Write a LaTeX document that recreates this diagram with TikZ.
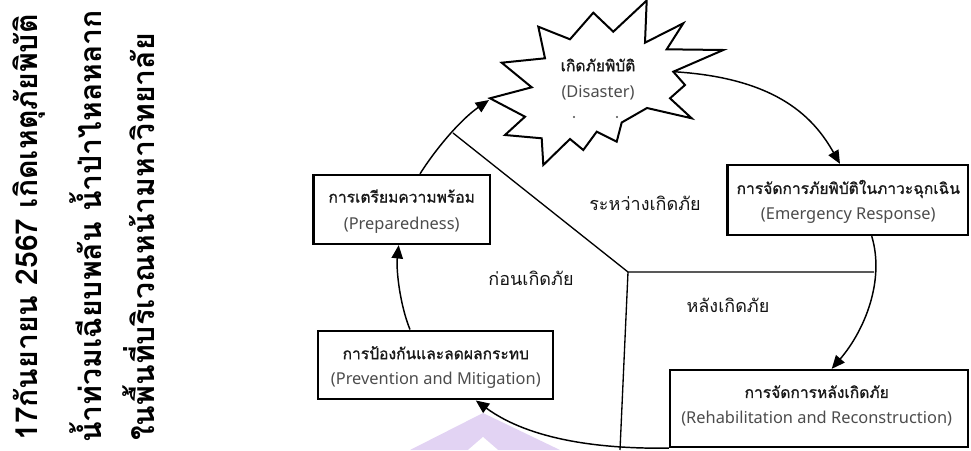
\documentclass[tikz,border=0pt]{standalone}
\usepackage{fontspec}
\setmainfont{Noto Sans}
\newfontfamily\thai[Script=Thai]{Loma}
\newfontfamily\thaibox[Script=Thai,FakeBold=1.2]{Loma}
\usetikzlibrary{arrows.meta,calc}
\definecolor{lav}{HTML}{E2D3F3}
\tikzset{
  starline/.style={line width=1.5pt, line join=miter},
  boxst/.style={draw, line width=1.7pt, inner sep=0pt},
  conn/.style={line width=1.1pt},
  arr/.style={conn, -{Triangle[length=10pt,width=8.5pt]}},
  divl/.style={line width=1pt},
  thtxt/.style={font=\thaibox\fontsize{11.7}{14}\selectfont, text=black!90, inner sep=0pt},
  entxt/.style={font=\fontsize{12.3}{14}\selectfont, text=black!70, inner sep=0pt},
  lbl/.style={font=\thai\fontsize{13.5}{15}\selectfont, text=black!92, inner sep=0pt},
  side/.style={font=\thai\bfseries\fontsize{22.6}{26}\selectfont, rotate=90, anchor=base west, inner sep=0pt},
}
\begin{document}
\begin{tikzpicture}[x=0.75pt,y=-0.75pt]
\useasboundingbox (0,0) rectangle (971,450);
% watermark
\fill[lav] (410,450) -- (483,413) -- (560,450) -- cycle;
\fill[white] (468,450) -- (483,437) -- (498,450) -- cycle;

% left rotated text
\node[side] (l1) at (37,441) {17กันยายน 2567 เกิดเหตุภัยพิบัติ};
\node[side] (l2) at (101,443) {น้ำท่วมเฉียบพลัน น้ำป่าไหลหลาก};
\node[side] (l3) at (154,441) {ในพื้นที่บริเวณหน้ามหาวิทยาลัย};

% starburst
\draw[starline] (490,98.3) -- (531.7,87.3) -- (501.7,62.7) -- (545,58.3) -- (538.3,26.7)
  -- (570,39.3) -- (593.3,12.7) -- (613.3,31.7) -- (646.7,0.5) -- (645,42.7)
  -- (683.3,23.3) -- (666.7,49.3) -- (723.3,50) -- (673.3,71.7) -- (685,85)
  -- (670,98.3) -- (691.7,118.3) -- (647,108) -- (621.7,122.5) -- (616.7,141.7)
  -- (596.7,131.7) -- (583.3,150) -- (570,139) -- (543.3,165) -- (541.7,138.3)
  -- (505,135) -- (525,116.7) -- cycle;
\coordinate (starL) at (489,100);
\coordinate (starR) at (673.3,71.7);
\node[thtxt] (disth) at (598,65) {เกิดภัยพิบัติ};
\node[entxt] (disen) at (598,93) {(Disaster)};
\fill[black!70] (574,117) circle (1.1);
\fill[black!70] (617,117) circle (1.1);

% boxes
\node[boxst, minimum width=132.5pt, minimum height=51.75pt] (prepbox) at (401.7,209.5) {};
\node[thtxt] (prepth) at (401.7,196) {การเตรียมความพร้อม};
\node[entxt] (prepen) at (401.7,225) {(Preparedness)};

\node[boxst, minimum width=176.25pt, minimum height=51.5pt] (prevbox) at (435.8,365) {};
\node[thtxt] (prevth) at (435.8,352.7) {การป้องกันและลดผลกระทบ};
\node[entxt] (preven) at (435.8,380) {(Prevention and Mitigation)};

\node[boxst, minimum width=180.5pt, minimum height=52.5pt] (emerbox) at (847.7,200) {};
\node[thtxt] (emerth) at (848.3,189) {การจัดการภัยพิบัติในภาวะฉุกเฉิน};
\node[entxt] (emeren) at (848.3,215.7) {(Emergency Response)};

\node[boxst, minimum width=223.5pt, minimum height=57.75pt] (rehabbox) at (819,408.5) {};
\node[thtxt] (rehabth) at (816.7,391.7) {การจัดการหลังเกิดภัย};
\node[entxt] (rehaben) at (816.7,418.3) {(Rehabilitation and Reconstruction)};

% phase labels
\node[lbl] (during) at (645,203) {ระหว่างเกิดภัย};
\node[lbl] (before) at (531,278) {ก่อนเกิดภัย};
\node[lbl] (after) at (728,305) {หลังเกิดภัย};

% dividers
\coordinate (divA) at (453,133);
\coordinate (divC) at (628,272);
\coordinate (divE) at (874,272);
\coordinate (divS) at (620,450);
\draw[divl] (divA) -- (divC) -- (divE);
\draw[divl] (divC) -- (divS);

% cycle arrows
\draw[arr] ($(prevbox.north)+(-25.8,0)$) .. controls (400,305) and (396,270) .. ($(prepbox.south)+(-3,0)$);
\draw[arr] ($(prepbox.north)+(18.3,0)$) .. controls (435,150) and (460,120) .. (starL);
\draw[arr] (starR) .. controls (780,78) and (815,120) .. ($(emerbox.north)+(-7.7,0)$);
\draw[arr] ($(emerbox.south)+(24,0)$) .. controls (885,280) and (865,330) .. ($(rehabbox.north)+(12.7,0)$);
\draw[arr] (rehabbox.south west) .. controls (600,449) and (530,440) .. ($(prevbox.south)+(40,0)$);
\end{tikzpicture}
\end{document}
